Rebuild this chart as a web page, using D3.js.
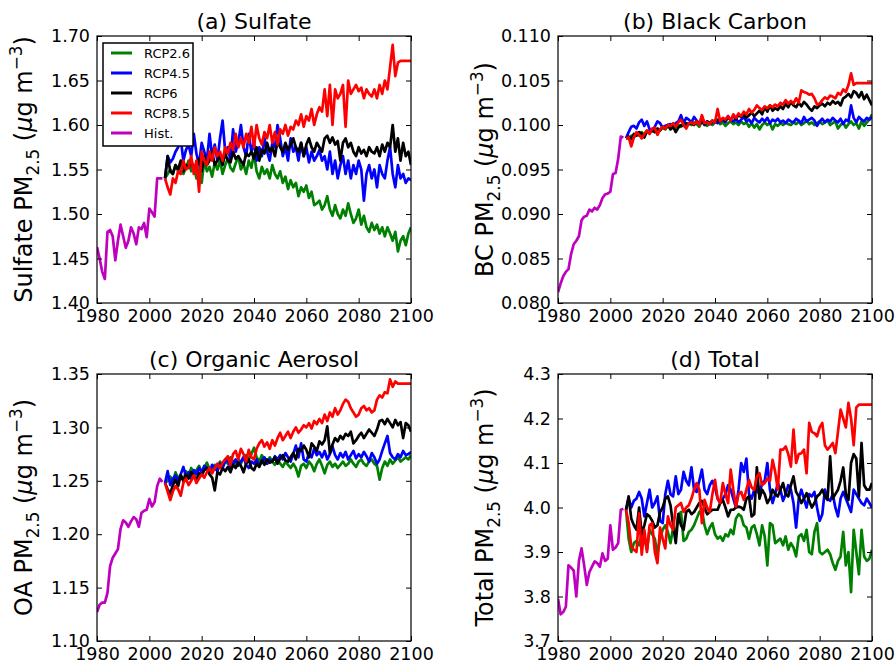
<!DOCTYPE html>
<html>
<head>
<meta charset="utf-8">
<script src="https://cdnjs.cloudflare.com/ajax/libs/d3/7.8.5/d3.min.js"></script>
<style>
  body { margin: 0; background: #fff; }
  svg { display: block; font-family: "DejaVu Sans", sans-serif; }
</style>
</head>
<body>
<div id="chart"></div>
<script>
//-- Years
var hist_years = d3.range(1980, 2006);
var rcp_years = d3.range(2006, 2101);
var x_ticks = [1980, 2000, 2020, 2040, 2060, 2080, 2100];

var series_names = ['RCP2.6', 'RCP4.5', 'RCP6', 'RCP8.5', 'Hist.'];
var series_colors = ['#008000', '#0000ff', '#000000', '#ff0000', '#bf00bf'];

//-- (a) Sulfate
var so4_yticks = [1.40, 1.45, 1.50, 1.55, 1.60, 1.65, 1.70];
var so4_hist = [1.463,1.450,1.435,1.427,1.480,1.482,1.475,1.448,1.470,1.488,1.475,1.462,1.470,1.485,1.478,1.466,1.485,1.483,1.490,1.474,1.506,1.502,1.497,1.540,1.540,1.540];
var so4_rcp26 = [
  1.540,1.545,1.550,1.545,1.555,1.548,1.556,1.545,1.552,1.560,
  1.548,1.555,1.540,1.552,1.535,1.560,1.548,1.553,1.542,1.558,
  1.550,1.560,1.545,1.555,1.562,1.552,1.548,1.557,1.565,1.550,
  1.556,1.545,1.560,1.552,1.568,1.548,1.540,1.553,1.545,1.550,
  1.540,1.555,1.545,1.540,1.548,1.535,1.542,1.528,1.538,1.530,
  1.535,1.520,1.530,1.525,1.532,1.518,1.525,1.510,1.512,1.515,
  1.505,1.510,1.520,1.505,1.498,1.510,1.500,1.495,1.505,1.498,
  1.512,1.500,1.490,1.495,1.505,1.488,1.498,1.485,1.480,1.490,
  1.482,1.488,1.478,1.485,1.475,1.485,1.478,1.470,1.480,1.458,
  1.470,1.475,1.465,1.478,1.485];
var so4_rcp45 = [
  1.540,1.565,1.558,1.562,1.570,1.575,1.585,1.560,1.572,1.578,
  1.565,1.590,1.568,1.555,1.580,1.570,1.560,1.590,1.565,1.578,
  1.560,1.585,1.605,1.570,1.575,1.560,1.595,1.570,1.580,1.600,
  1.575,1.565,1.590,1.570,1.580,1.560,1.575,1.565,1.585,1.570,
  1.560,1.580,1.575,1.600,1.585,1.565,1.575,1.560,1.585,1.570,
  1.575,1.560,1.580,1.565,1.575,1.558,1.570,1.560,1.565,1.572,
  1.560,1.565,1.550,1.570,1.545,1.560,1.540,1.555,1.565,1.545,
  1.560,1.540,1.555,1.545,1.560,1.550,1.515,1.545,1.555,1.540,
  1.550,1.530,1.555,1.545,1.540,1.560,1.575,1.545,1.530,1.555,
  1.540,1.545,1.535,1.540,1.538];
var so4_rcp60 = [
  1.540,1.565,1.548,1.545,1.555,1.550,1.560,1.548,1.555,1.552,
  1.560,1.550,1.555,1.562,1.548,1.565,1.555,1.560,1.570,1.555,
  1.560,1.565,1.555,1.568,1.560,1.558,1.570,1.562,1.565,1.560,
  1.555,1.568,1.565,1.570,1.562,1.575,1.560,1.572,1.568,1.580,
  1.570,1.575,1.565,1.582,1.575,1.570,1.580,1.572,1.578,1.585,
  1.575,1.570,1.580,1.565,1.578,1.585,1.575,1.570,1.580,1.575,
  1.570,1.585,1.588,1.580,1.586,1.578,1.582,1.560,1.580,1.585,
  1.575,1.580,1.570,1.565,1.575,1.568,1.572,1.565,1.575,1.570,
  1.568,1.575,1.565,1.578,1.570,1.580,1.575,1.600,1.570,1.585,
  1.560,1.580,1.565,1.570,1.555];
var so4_rcp85 = [
  1.540,1.530,1.522,1.540,1.535,1.548,1.545,1.560,1.550,1.552,
  1.565,1.545,1.560,1.525,1.570,1.560,1.555,1.570,1.560,1.575,
  1.565,1.570,1.560,1.575,1.568,1.580,1.572,1.590,1.575,1.585,
  1.575,1.590,1.580,1.598,1.575,1.600,1.585,1.578,1.592,1.585,
  1.600,1.580,1.592,1.578,1.595,1.590,1.600,1.588,1.598,1.595,
  1.605,1.600,1.612,1.598,1.610,1.605,1.618,1.600,1.612,1.620,
  1.615,1.640,1.610,1.645,1.600,1.640,1.630,1.635,1.645,1.598,
  1.650,1.635,1.640,1.645,1.638,1.642,1.630,1.640,1.635,1.632,
  1.640,1.630,1.645,1.635,1.650,1.640,1.665,1.690,1.655,1.670,
  1.672,1.672,1.672,1.672,1.672];

//-- (b) Black Carbon
var bc_yticks = [0.080, 0.085, 0.090, 0.095, 0.100, 0.105, 0.110];
var bc_hist = [0.0812,0.0822,0.0830,0.0835,0.0838,0.0855,0.0866,0.0870,0.0875,0.0893,0.0897,0.0898,0.0905,0.0903,0.0907,0.0905,0.0910,0.0918,0.0922,0.0923,0.0925,0.0945,0.0946,0.0962,0.0987,0.0986];
var bc_rcp26 = [
  0.0985,0.0985,0.0988,0.0986,0.0990,0.0988,0.0992,0.0989,0.0993,0.0991,
  0.0994,0.0992,0.0996,0.0994,0.0997,0.0995,0.0999,0.0996,0.0999,0.0997,
  0.1000,0.0998,0.1001,0.0999,0.1002,0.1000,0.1003,0.1001,0.0998,0.1004,
  0.1001,0.0999,0.1002,0.1000,0.1003,0.1005,0.1001,0.1003,0.0999,0.1002,
  0.1004,0.1001,0.1003,0.1000,0.1004,0.1001,0.1003,0.0998,0.1002,0.0997,
  0.1001,0.0995,0.1000,0.1003,0.1000,0.1002,0.0995,0.1001,0.0999,0.1002,
  0.1000,0.1003,0.1001,0.1000,0.1003,0.1001,0.1004,0.1000,0.1002,0.1005,
  0.1001,0.1003,0.1000,0.1002,0.1004,0.1001,0.1003,0.1005,0.1000,0.1002,
  0.1004,0.0996,0.1000,0.1003,0.0997,0.1001,0.1004,0.1000,0.1002,0.0996,
  0.1004,0.0999,0.1003,0.1006,0.1012];
var bc_rcp45 = [
  0.0985,0.0992,0.0998,0.0999,0.0996,0.1003,0.1006,0.0999,0.1004,0.0995,
  0.0993,0.0998,0.1004,0.1002,0.0997,0.0999,0.1000,0.1001,0.0999,0.1002,
  0.1004,0.1011,0.1002,0.1008,0.1006,0.1003,0.1009,0.1005,0.1001,0.1009,
  0.1000,0.1004,0.1001,0.1003,0.1005,0.1002,0.1004,0.1006,0.1003,0.1010,
  0.1005,0.1004,0.1007,0.1003,0.1006,0.1009,0.1004,0.1006,0.1002,0.1008,
  0.1005,0.1003,0.1007,0.1004,0.1008,0.1002,0.1006,0.1004,0.1007,0.1003,
  0.1005,0.1002,0.1006,0.1004,0.1003,0.1007,0.1005,0.1002,0.1009,0.1004,
  0.1006,0.1008,0.1005,0.0999,0.1004,0.1007,0.1003,0.1006,0.1004,0.1008,
  0.1005,0.1003,0.1007,0.1001,0.1006,0.1004,0.1022,0.1008,0.1003,0.1009,
  0.1006,0.1004,0.1008,0.1006,0.1009];
var bc_rcp60 = [
  0.0985,0.0987,0.0984,0.0990,0.0988,0.0992,0.0990,0.0986,0.0993,0.0991,
  0.0995,0.0992,0.0996,0.0994,0.0998,0.0996,0.1000,0.0995,0.0998,0.0992,
  0.0997,0.1000,0.0999,0.1002,0.1001,0.1003,0.1000,0.1004,0.1002,0.1003,
  0.1001,0.1004,0.1002,0.1005,0.1003,0.1006,0.1004,0.1007,0.1005,0.1008,
  0.1006,0.1010,0.1007,0.1011,0.1009,0.1012,0.1008,0.1011,0.1014,0.1010,
  0.1013,0.1016,0.1012,0.1020,0.1015,0.1022,0.1016,0.1019,0.1017,0.1021,
  0.1018,0.1024,0.1020,0.1026,0.1022,0.1020,0.1025,0.1021,0.1026,0.1023,
  0.1019,0.1016,0.1021,0.1019,0.1022,0.1024,0.1021,0.1025,0.1023,0.1027,
  0.1024,0.1026,0.1022,0.1030,0.1032,0.1035,0.1031,0.1038,0.1036,0.1031,
  0.1037,0.1029,0.1034,0.1028,0.1022];
var bc_rcp85 = [
  0.0985,0.0986,0.0976,0.0986,0.0992,0.0989,0.0985,0.0990,0.0994,0.0990,
  0.0996,0.0997,0.0989,0.0995,0.0998,0.0996,0.1000,0.0999,0.1002,0.0998,
  0.1003,0.1006,0.1000,0.0996,0.1002,0.1003,0.1001,0.1004,0.1000,0.1011,
  0.1002,0.1003,0.1001,0.1005,0.1003,0.1018,0.1004,0.1008,0.1006,0.1010,
  0.1005,0.1012,0.1008,0.1013,0.1010,0.1015,0.1012,0.1018,0.1014,0.1017,
  0.1022,0.1019,0.1017,0.1021,0.1019,0.1022,0.1020,0.1023,0.1021,0.1025,
  0.1023,0.1028,0.1024,0.1027,0.1024,0.1030,0.1025,0.1039,0.1037,0.1036,
  0.1034,0.1035,0.1030,0.1023,0.1024,0.1028,0.1031,0.1029,0.1033,0.1032,
  0.1030,0.1036,0.1034,0.1040,0.1037,0.1045,0.1058,0.1045,0.1047,0.1047,
  0.1047,0.1047,0.1047,0.1047,0.1047];

//-- (c) Organic Aerosol
var oa_yticks = [1.10, 1.15, 1.20, 1.25, 1.30, 1.35];
var oa_hist = [1.127,1.134,1.136,1.136,1.145,1.170,1.178,1.182,1.186,1.205,1.213,1.211,1.207,1.212,1.216,1.214,1.207,1.220,1.222,1.223,1.233,1.226,1.230,1.245,1.252,1.249];
var oa_rcp26 = [
  1.248,1.250,1.254,1.248,1.258,1.252,1.256,1.250,1.259,1.255,
  1.262,1.257,1.260,1.264,1.258,1.262,1.267,1.261,1.258,1.265,
  1.262,1.268,1.264,1.270,1.266,1.272,1.268,1.265,1.270,1.266,
  1.272,1.274,1.270,1.275,1.281,1.272,1.268,1.274,1.270,1.266,
  1.272,1.268,1.265,1.270,1.266,1.263,1.268,1.265,1.262,1.266,
  1.262,1.254,1.264,1.266,1.262,1.268,1.265,1.259,1.266,1.270,
  1.264,1.257,1.265,1.268,1.263,1.266,1.262,1.265,1.268,1.264,
  1.266,1.270,1.266,1.263,1.268,1.270,1.266,1.264,1.268,1.270,
  1.266,1.264,1.251,1.262,1.268,1.264,1.270,1.266,1.269,1.272,
  1.268,1.270,1.272,1.270,1.274];
var oa_rcp45 = [
  1.248,1.259,1.246,1.252,1.255,1.250,1.256,1.263,1.254,1.258,
  1.252,1.260,1.256,1.262,1.258,1.264,1.262,1.258,1.265,1.262,
  1.259,1.266,1.262,1.268,1.270,1.262,1.266,1.270,1.264,1.268,
  1.272,1.265,1.262,1.268,1.266,1.270,1.264,1.268,1.272,1.266,
  1.270,1.268,1.273,1.270,1.274,1.270,1.276,1.272,1.268,1.275,
  1.283,1.272,1.285,1.270,1.268,1.276,1.272,1.280,1.274,1.277,
  1.272,1.278,1.270,1.275,1.282,1.274,1.270,1.276,1.272,1.277,
  1.270,1.274,1.278,1.271,1.275,1.272,1.277,1.273,1.268,1.276,
  1.272,1.266,1.270,1.278,1.285,1.292,1.276,1.272,1.270,1.275,
  1.272,1.278,1.274,1.275,1.277];
var oa_rcp60 = [
  1.248,1.242,1.238,1.246,1.251,1.245,1.255,1.250,1.256,1.252,
  1.258,1.255,1.251,1.257,1.255,1.260,1.262,1.256,1.253,1.241,
  1.258,1.256,1.262,1.259,1.263,1.258,1.265,1.262,1.267,1.264,
  1.258,1.266,1.270,1.262,1.260,1.266,1.263,1.269,1.265,1.270,
  1.267,1.268,1.272,1.266,1.271,1.274,1.269,1.268,1.272,1.276,
  1.270,1.280,1.278,1.283,1.279,1.272,1.285,1.282,1.278,1.287,
  1.284,1.288,1.301,1.276,1.284,1.290,1.287,1.292,1.289,1.294,
  1.292,1.296,1.285,1.288,1.292,1.295,1.290,1.294,1.298,1.295,
  1.292,1.298,1.306,1.307,1.303,1.308,1.304,1.300,1.307,1.302,
  1.305,1.290,1.304,1.302,1.296];
var oa_rcp85 = [
  1.248,1.240,1.232,1.240,1.245,1.242,1.236,1.248,1.252,1.246,
  1.250,1.255,1.248,1.252,1.256,1.253,1.258,1.262,1.257,1.262,
  1.266,1.262,1.267,1.270,1.273,1.265,1.275,1.278,1.270,1.280,
  1.275,1.268,1.279,1.272,1.270,1.280,1.285,1.288,1.282,1.286,
  1.280,1.288,1.283,1.290,1.295,1.288,1.292,1.296,1.290,1.296,
  1.300,1.295,1.298,1.302,1.300,1.304,1.299,1.306,1.303,1.308,
  1.304,1.312,1.306,1.314,1.310,1.318,1.312,1.316,1.322,1.326,
  1.324,1.318,1.314,1.310,1.312,1.318,1.320,1.316,1.318,1.314,
  1.316,1.326,1.330,1.328,1.333,1.332,1.345,1.338,1.343,1.341,
  1.341,1.341,1.341,1.341,1.341];

//-- (d) Total
var tot_yticks = [3.7, 3.8, 3.9, 4.0, 4.1, 4.2, 4.3];
var tot_hist = [3.795,3.760,3.765,3.777,3.870,3.865,3.858,3.800,3.880,3.908,3.870,3.826,3.855,3.867,3.879,3.875,3.867,3.897,3.880,3.885,3.960,3.905,3.910,3.920,3.995,3.997];
var tot_rcp26 = [
  3.995,3.930,3.900,3.920,3.925,3.915,3.940,3.930,3.905,3.950,
  3.940,3.930,3.895,3.930,3.950,3.960,3.945,3.920,3.955,3.940,
  3.985,3.990,3.925,3.930,3.945,3.950,3.960,3.975,3.990,3.995,
  3.960,3.940,3.955,3.965,3.940,3.930,3.935,3.925,3.940,3.935,
  3.950,3.940,3.975,3.985,3.980,3.960,3.955,3.930,3.955,3.960,
  3.940,3.915,3.960,3.935,3.870,3.965,3.960,3.920,3.925,3.930,
  3.915,3.935,3.905,3.920,3.910,3.890,3.935,3.940,3.925,3.950,
  3.900,3.895,3.945,3.965,3.900,3.895,3.900,3.905,3.895,3.875,
  3.860,3.880,3.890,3.945,3.870,3.900,3.810,3.950,3.900,3.850,
  3.950,3.890,3.880,3.885,3.905];
var tot_rcp45 = [
  3.995,4.020,4.000,4.015,4.020,4.035,4.020,3.980,4.010,4.040,
  4.000,4.010,4.025,3.970,3.965,4.030,4.060,4.030,4.025,4.070,
  4.030,4.040,4.080,4.060,4.050,4.090,4.040,4.035,4.060,4.085,
  4.040,4.030,4.050,4.060,4.045,4.020,4.010,4.020,4.030,4.050,
  4.040,4.020,4.000,4.040,4.100,4.080,4.110,4.030,4.020,4.040,
  4.040,4.030,4.055,4.060,4.100,4.040,4.010,4.030,4.055,4.040,
  4.015,4.030,4.050,4.040,4.010,3.955,4.020,4.040,4.020,4.000,
  4.030,4.025,4.035,4.000,3.970,3.985,4.040,4.020,4.015,4.030,
  4.000,3.980,4.020,4.035,4.020,4.005,3.990,4.040,4.030,4.020,
  4.010,4.005,4.020,4.010,4.000];
var tot_rcp60 = [
  3.995,4.025,3.975,3.960,3.950,4.000,3.940,3.960,3.985,3.980,
  3.970,3.955,3.960,3.990,4.000,4.020,4.025,4.005,3.960,3.920,
  3.985,3.960,3.950,3.990,3.995,3.985,3.990,4.000,4.010,4.015,
  4.000,3.985,3.990,3.995,3.995,3.995,4.010,4.017,4.000,3.980,
  3.995,3.995,4.000,4.002,4.000,3.995,4.020,4.025,3.980,3.985,
  4.090,4.020,4.040,4.030,4.010,4.020,4.040,4.030,4.025,4.040,
  4.055,4.030,4.025,4.050,4.070,4.035,4.025,4.010,4.020,4.032,
  4.015,4.000,4.010,4.025,4.030,4.040,4.025,4.017,4.115,4.020,
  4.030,4.040,4.060,4.090,4.030,4.017,4.100,4.120,4.110,4.025,
  4.145,4.050,4.040,4.040,4.055];
var tot_rcp85 = [
  3.995,3.965,3.912,3.905,3.900,3.987,3.894,3.950,3.900,3.960,
  3.965,3.900,3.875,3.955,3.930,3.908,3.980,3.960,3.950,4.000,
  4.005,4.010,3.990,4.000,4.005,4.020,4.040,4.055,4.040,3.965,
  4.017,4.000,3.990,4.030,4.062,4.020,4.010,4.055,4.030,4.010,
  4.085,4.040,4.002,4.030,4.035,4.017,4.040,4.062,4.045,4.040,
  4.070,4.077,4.050,4.055,4.065,4.060,4.107,4.080,4.040,4.130,
  4.130,4.137,4.120,4.092,4.175,4.100,4.120,4.122,4.130,4.077,
  4.190,4.170,4.167,4.160,4.180,4.190,4.140,4.130,4.137,4.145,
  4.122,4.170,4.220,4.200,4.180,4.235,4.200,4.140,4.225,4.231,
  4.231,4.231,4.231,4.231,4.231];

var panels = [
  {title: '(a) Sulfate', label: 'Sulfate PM', hist: so4_hist, rcp: [so4_rcp26, so4_rcp45, so4_rcp60, so4_rcp85], yticks: so4_yticks, fmt: '.2f', left: 97, top: 36, legend: true},
  {title: '(b) Black Carbon', label: 'BC PM', hist: bc_hist, rcp: [bc_rcp26, bc_rcp45, bc_rcp60, bc_rcp85], yticks: bc_yticks, fmt: '.3f', left: 558, top: 36},
  {title: '(c) Organic Aerosol', label: 'OA PM', hist: oa_hist, rcp: [oa_rcp26, oa_rcp45, oa_rcp60, oa_rcp85], yticks: oa_yticks, fmt: '.2f', left: 97, top: 374},
  {title: '(d) Total', label: 'Total PM', hist: tot_hist, rcp: [tot_rcp26, tot_rcp45, tot_rcp60, tot_rcp85], yticks: tot_yticks, fmt: '.1f', left: 558, top: 374}
];

var tot_width = 895;
var tot_height = 668;
var pw = 314, ph = 267;

var svg = d3.select('#chart')
  .append('svg')
    .attr('width', tot_width)
    .attr('height', tot_height);

svg.append('rect')
    .attr('width', tot_width)
    .attr('height', tot_height)
    .attr('fill', 'white');

function Draw_Panel(p, k) {
  var g = svg.append('g')
    .attr('transform', 'translate(' + p.left + ',' + p.top + ')');

  var x = d3.scaleLinear().domain([1980, 2100]).range([0, pw]);
  var y = d3.scaleLinear()
    .domain([p.yticks[0], p.yticks[p.yticks.length-1]])
    .range([ph, 0]);

  //-- Clip
  g.append('clipPath')
      .attr('id', 'clip' + k)
    .append('rect')
      .attr('width', pw)
      .attr('height', ph);

  var line = d3.line()
    .x(function (d) {return x(d[0]);})
    .y(function (d) {return y(d[1]);});

  var lines = g.append('g').attr('clip-path', 'url(#clip' + k + ')');

  //-- RCP lines, then hist
  p.rcp.forEach(function (vals, i) {
    lines.append('path')
      .datum(rcp_years.map(function (yr, j) {return [yr, vals[j]];}))
      .attr('d', line)
      .attr('fill', 'none')
      .attr('stroke', series_colors[i])
      .attr('stroke-width', 2.7)
      .attr('stroke-linejoin', 'round');
  });
  lines.append('path')
    .datum(hist_years.map(function (yr, j) {return [yr, p.hist[j]];}))
    .attr('d', line)
    .attr('fill', 'none')
    .attr('stroke', series_colors[4])
    .attr('stroke-width', 2.7)
    .attr('stroke-linejoin', 'round');

  //-- Axes, ticks inside on all four sides
  var fmt = d3.format(p.fmt);
  g.append('g')
    .attr('class', 'xaxis')
    .attr('transform', 'translate(0,' + ph + ')')
    .call(d3.axisBottom(x).tickValues(x_ticks).tickFormat(d3.format('d')).tickSizeInner(-5).tickSizeOuter(0).tickPadding(7));
  g.append('g')
    .attr('class', 'xaxis')
    .call(d3.axisTop(x).tickValues(x_ticks).tickFormat('').tickSizeInner(-5).tickSizeOuter(0));
  g.append('g')
    .attr('class', 'yaxis')
    .call(d3.axisLeft(y).tickValues(p.yticks).tickFormat(fmt).tickSizeInner(-5).tickSizeOuter(0).tickPadding(7));
  g.append('g')
    .attr('class', 'yaxis')
    .attr('transform', 'translate(' + pw + ',0)')
    .call(d3.axisRight(y).tickValues(p.yticks).tickFormat('').tickSizeInner(-5).tickSizeOuter(0));

  g.selectAll('.domain').remove();
  g.selectAll('.tick line').attr('stroke', '#000').attr('stroke-width', 1);
  g.selectAll('.tick text')
    .attr('fill', '#000')
    .style('font-family', '"DejaVu Sans", sans-serif')
    .style('font-size', '17.5px');

  g.append('rect')
    .attr('width', pw)
    .attr('height', ph)
    .attr('fill', 'none')
    .attr('stroke', '#000')
    .attr('stroke-width', 1.2);

  //-- Title
  g.append('text')
    .attr('x', pw/2)
    .attr('y', -7)
    .attr('text-anchor', 'middle')
    .style('font-size', '22px')
    .text(p.title);

  //-- y label with sub- and superscript
  var lab = g.append('text')
    .attr('transform', 'translate(' + (32 - 97) + ',' + (ph/2) + ') rotate(-90)')
    .attr('text-anchor', 'middle')
    .style('font-size', '24px');
  lab.append('tspan').text(p.label);
  lab.append('tspan').attr('dy', 7).style('font-size', '16.8px').text('2.5');
  lab.append('tspan').attr('dy', -7).text(' (');
  lab.append('tspan').style('font-style', 'italic').text('\u03bc');
  lab.append('tspan').text('g m');
  lab.append('tspan').attr('dy', -10).style('font-size', '16.8px').text('\u22123');
  lab.append('tspan').attr('dy', 10).text(')');

  //-- Legend
  if (p.legend) {
    var lg = g.append('g').attr('transform', 'translate(6,7)');
    lg.append('rect')
      .attr('width', 90)
      .attr('height', 103)
      .attr('fill', 'white')
      .attr('stroke', '#000')
      .attr('stroke-width', 1.5);
    series_names.forEach(function (name, i) {
      lg.append('line')
        .attr('x1', 8).attr('x2', 29)
        .attr('y1', 10 + i*20).attr('y2', 10 + i*20)
        .attr('stroke', series_colors[i])
        .attr('stroke-width', 3);
      lg.append('text')
        .attr('x', 41)
        .attr('y', 10 + i*20)
        .attr('dy', '0.35em')
        .style('font-size', '13px')
        .text(name);
    });
  }
}

panels.forEach(Draw_Panel);
</script>
</body>
</html>
